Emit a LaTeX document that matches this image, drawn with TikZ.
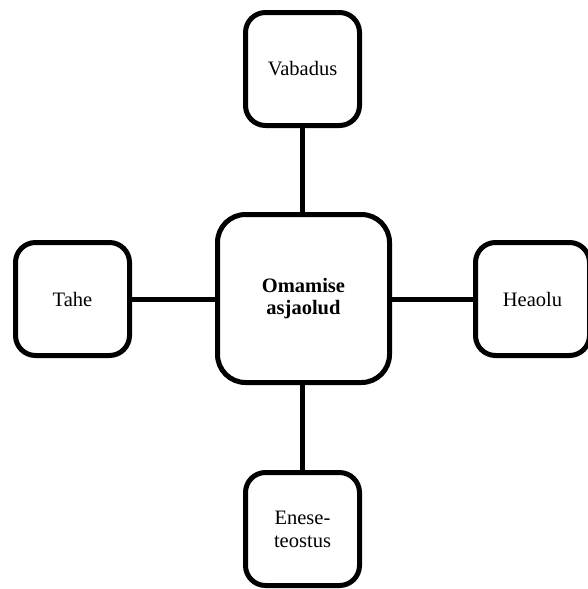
\documentclass[tikz,border=0pt]{standalone}
\usepackage{fontspec}
\setmainfont{Liberation Serif}
\begin{document}
\begin{tikzpicture}[x=1pt,y=-1pt,
  boxline/.style={line width=5pt},
  satellite/.style={boxline, draw, rounded corners=20pt,
    minimum width=114pt, minimum height=113pt, inner sep=0pt,
    align=center, font=\fontsize{20.5}{23}\selectfont},
  hub/.style={boxline, draw, rounded corners=28pt,
    minimum width=172pt, minimum height=168pt, inner sep=0pt,
    align=center, font=\fontsize{20.5}{22}\selectfont\bfseries},
  link/.style={boxline}]
  \useasboundingbox (0,0) rectangle (587,589);
  % central concept
  \node[hub] (hub) at (303.5,298.5) {Omamise\\asjaolud};
  % surrounding factors
  \node[satellite] (top) at (302.5,69) {Vabadus};
  \node[satellite] (left) at (72.5,299) {Tahe};
  \node[satellite] (right) at (532.5,299) {Heaolu};
  \node[satellite] (bottom) at (302.5,529) {Enese-\\teostus};
  % connectors
  \draw[link] (top.south) -- (top.south |- hub.north);
  \draw[link] (left.east) -- (left.east -| hub.west);
  \draw[link] (right.west) -- (right.west -| hub.east);
  \draw[link] (bottom.north) -- (bottom.north |- hub.south);
\end{tikzpicture}
\end{document}
